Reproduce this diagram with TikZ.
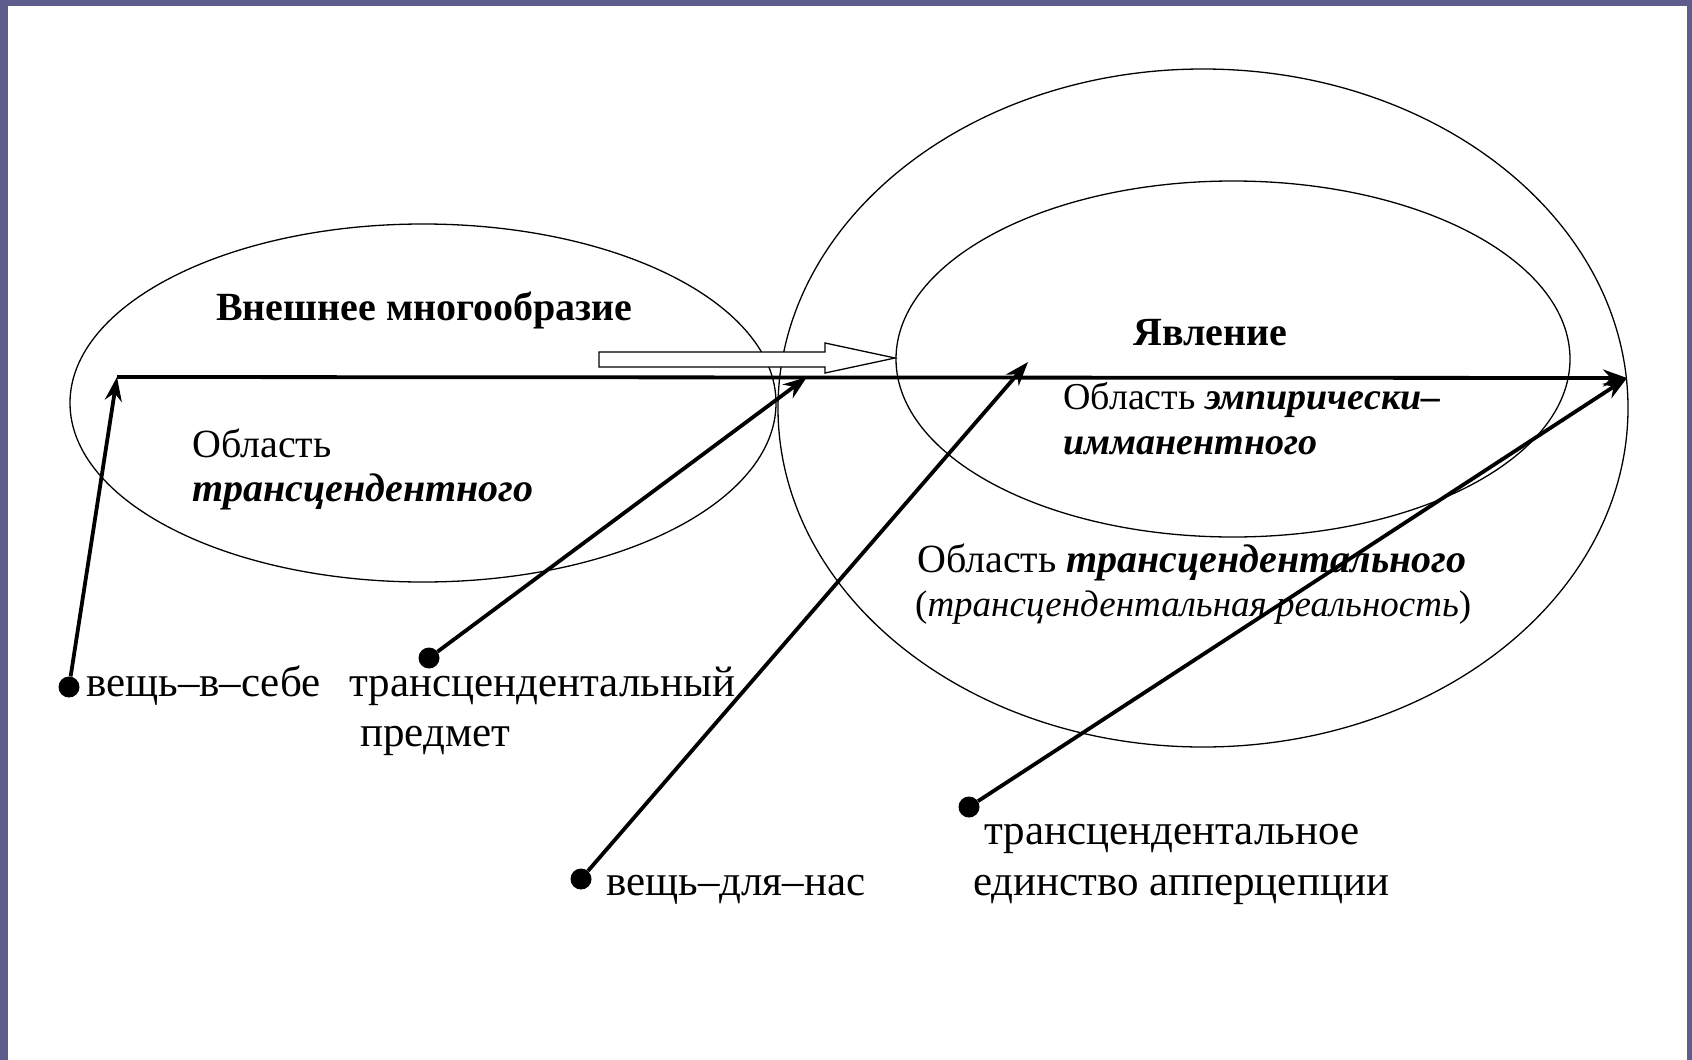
\documentclass[tikz,border=0pt]{standalone}
\usepackage{fontspec}
\setmainfont{Liberation Serif}
\usetikzlibrary{arrows.meta}

\definecolor{framecol}{HTML}{5C5D8C}

\tikzset{
  oval/.style={draw, line width=1.3pt},
  link/.style={line width=3.8pt, -{Stealth[length=24pt,width=17pt]}},
  spot/.style={circle, fill, inner sep=0pt, minimum size=21pt},
  head/.style={font=\fontsize{40}{46}\selectfont\bfseries, inner sep=0pt, anchor=base west},
  intext/.style={font=\fontsize{40}{46}\selectfont, inner sep=0pt, anchor=base west},
  lbl/.style={font=\fontsize{43}{48}\selectfont, inner sep=0pt, anchor=base west},
}

\begin{document}
\begin{tikzpicture}[x=1pt,y=-1pt]
  \useasboundingbox (0,0) rectangle (1692,1060);
  % frame
  \fill[framecol] (0,0) rectangle (1692,6);
  \fill[framecol] (0,0) rectangle (8,1060);
  \fill[framecol] (1687,0) rectangle (1692,1060);

  % the three ovals
  \draw[oval] (423,403) ellipse [x radius=353, y radius=179];
  \draw[oval] (1203,408) ellipse [x radius=425, y radius=339];
  \draw[oval] (1233,359) ellipse [x radius=337, y radius=178];

  % hollow arrow between the ovals
  \draw[line width=1.3pt, fill=white] (599,352) -- (825,352) -- (825,343)
    -- (895,358) -- (825,373) -- (825,367) -- (599,367) -- cycle;

  % headings
  \node[head] (manifold) at (216,320) {Внешнее многообразие};
  \node[head] (phenom) at (1133,345) {Явление};

  % texts inside the ovals
  \node[intext] (transA) at (192,457) {Область};
  \node[intext] (transB) at (192,501) {\textbf{\textit{трансцендентного}}};
  \node[intext, font=\fontsize{38}{44}\selectfont] (empA) at (1063,409) {Область \textbf{\textit{эмпирически–}}};
  \node[intext, font=\fontsize{38}{44}\selectfont] (empB) at (1063,454) {\textbf{\textit{имманентного}}};
  \node[intext] (realA) at (917,572) {Область \textbf{\textit{трансцендентального}}};
  \node[intext, font=\fontsize{37}{44}\selectfont] (realB) at (915,616) {(\textit{трансцендентальная реальность})};

  % dots and their labels
  \node[spot] (self) at (69,687) {};
  \node[spot] (object) at (429,658) {};
  \node[spot] (forus) at (581,879) {};
  \node[spot] (unity) at (969,807) {};
  \node[lbl] (selflbl) at (86,696) {вещь–в–себе};
  \node[lbl] (objlblA) at (349,696) {трансцендентальный};
  \node[lbl] (objlblB) at (360,746) {предмет};
  \node[lbl] (foruslbl) at (606,895) {вещь–для–нас};
  \node[lbl] (unitylblA) at (984,844) {трансцендентальное};
  \node[lbl] (unitylblB) at (973,895) {единство апперцепции};

  % arrow ends
  \coordinate (west) at (117,377);
  \coordinate (east) at (1627,378);
  \coordinate (rim) at (807,377);
  \coordinate (core) at (1028,362);

  \draw[link] (west) -- (east);
  \draw[link] (self) -- (west);
  \draw[link] (object) -- (rim);
  \draw[link] (forus) -- (core);
  \draw[link] (unity) -- (east);
\end{tikzpicture}
\end{document}
